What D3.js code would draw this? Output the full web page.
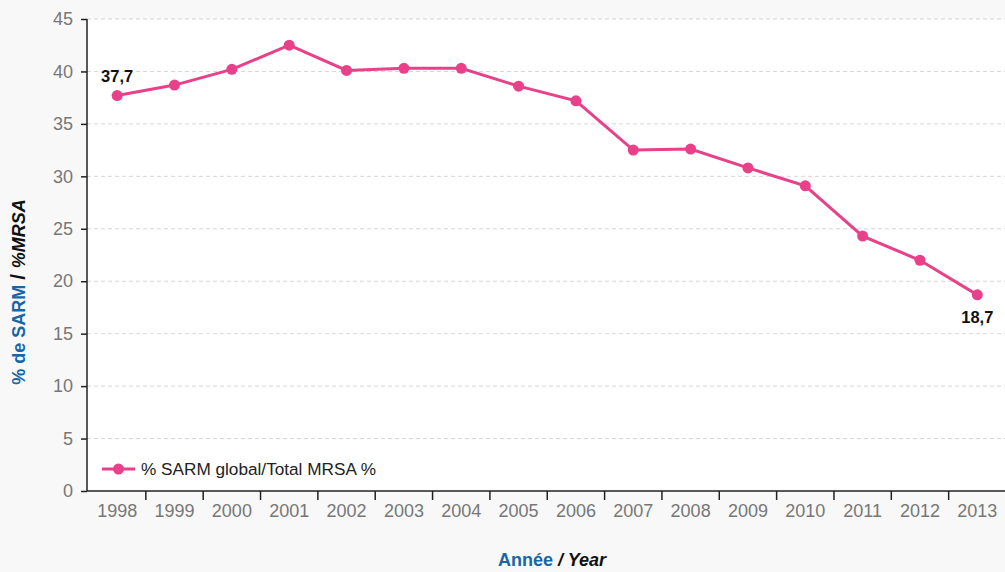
<!DOCTYPE html>
<html>
<head>
<meta charset="utf-8">
<script src="https://cdn.jsdelivr.net/npm/d3@7"></script>
<style>
  body { margin: 0; background: #f8f8f8; }
  svg { display: block; font-family: "Liberation Sans", Arial, sans-serif; }
  .grid line { stroke: #d6d6d6; stroke-dasharray: 4,3; }
  .axis text { fill: #777; font-size: 18px; }
  .axis path, .axis line { stroke: #222; stroke-width: 1.5; }
</style>
</head>
<body>
<div class="graph"></div>
<script>
// annees et % SARM
var annees = ["1998","1999","2000","2001","2002","2003","2004","2005","2006","2007","2008","2009","2010","2011","2012","2013"];
var valeurs = [37.7, 38.7, 40.2, 42.5, 40.1, 40.3, 40.3, 38.6, 37.2, 32.5, 32.6, 30.8, 29.1, 24.3, 22.0, 18.7];
var yTicks = [0, 5, 10, 15, 20, 25, 30, 35, 40, 45];
var serieNom = "% SARM global/Total MRSA %";

var width = 1005, height = 572;
var gLeft = 87, gTop = 19, gBottom = 491, gRight = 1006;

var chart = d3.select(".graph").append("svg")
  .attr("width", width)
  .attr("height", height);

var x = d3.scaleBand().domain(annees).range([gLeft + 1.5, gRight]);
var y = d3.scaleLinear().domain([0, 45]).range([gBottom, gTop]);

// fond blanc de la zone du graph
chart.append("rect")
  .attr("x", gLeft).attr("y", y(45))
  .attr("width", width - gLeft).attr("height", gBottom - y(45))
  .attr("fill", "#fff");

// grille
chart.append("g").attr("class", "grid")
  .selectAll("line")
  .data(yTicks.filter(function(d){ return d > 0; }))
  .enter().append("line")
  .attr("x1", gLeft).attr("x2", width)
  .attr("y1", function(d){ return y(d); })
  .attr("y2", function(d){ return y(d); });

// axe y
var yAxis = chart.append("g").attr("class", "axis")
  .attr("transform", "translate(" + gLeft + ",0)")
  .call(d3.axisLeft(y).tickValues(yTicks).tickSize(6).tickPadding(8).tickSizeOuter(0));
yAxis.select(".domain").remove();
yAxis.append("line").attr("x1", 0).attr("x2", 0).attr("y1", y(45)).attr("y2", gBottom);

// axe x
var xAxis = chart.append("g").attr("class", "axis")
  .attr("transform", "translate(0," + gBottom + ")")
  .call(d3.axisBottom(x).tickSize(0).tickPadding(13));
xAxis.select(".domain").remove();
xAxis.append("line").attr("x1", gLeft).attr("x2", width).attr("y1", 0).attr("y2", 0);
xAxis.selectAll(".sep")
  .data(annees.slice(1))
  .enter().append("line")
  .attr("class", "sep")
  .attr("x1", function(d){ return x(d); })
  .attr("x2", function(d){ return x(d); })
  .attr("y1", 0).attr("y2", 9);

// titre axe y
var yTitle = chart.append("text")
  .attr("transform", "translate(25," + 292 + ") rotate(-90)")
  .attr("text-anchor", "middle")
  .style("font-size", "18px")
  .style("font-weight", "bold");
yTitle.append("tspan").attr("fill", "#1766a6").text("% de SARM ");
yTitle.append("tspan").attr("fill", "#111").style("font-size", "21px").text("/ ");
yTitle.append("tspan").attr("fill", "#111").style("font-style", "italic").text("%MRSA");

// titre axe x
var xTitle = chart.append("text")
  .attr("x", 552).attr("y", 566)
  .attr("text-anchor", "middle")
  .style("font-size", "18px")
  .style("font-weight", "bold");
xTitle.append("tspan").attr("fill", "#1766a6").text("Année ");
xTitle.append("tspan").attr("fill", "#111").style("font-style", "italic").text("/ Year");

// la courbe
var couleur = "#e8418a";
var donnees = annees.map(function(a, i){ return { annee: a, value: valeurs[i] }; });
var cx = function(d){ return x(d.annee) + x.bandwidth() / 2; };

var valueline = d3.line()
  .x(cx)
  .y(function(d){ return y(d.value); });

chart.append("path")
  .datum(donnees)
  .attr("fill", "none")
  .attr("stroke", couleur)
  .attr("stroke-width", 3)
  .attr("d", valueline);

chart.selectAll(".point")
  .data(donnees)
  .enter().append("circle")
  .attr("class", "point")
  .attr("cx", cx)
  .attr("cy", function(d){ return y(d.value); })
  .attr("r", 5.5)
  .attr("fill", couleur);

// etiquettes premiere et derniere valeur
var premier = donnees[0], dernier = donnees[donnees.length - 1];
chart.append("text")
  .attr("x", cx(premier)).attr("y", y(premier.value) - 14)
  .attr("text-anchor", "middle")
  .style("font-size", "16.5px").style("font-weight", "bold").attr("fill", "#111")
  .text(d3.format(".1f")(premier.value).replace(".", ","));
chart.append("text")
  .attr("x", cx(dernier)).attr("y", y(dernier.value) + 28)
  .attr("text-anchor", "middle")
  .style("font-size", "16.5px").style("font-weight", "bold").attr("fill", "#111")
  .text(d3.format(".1f")(dernier.value).replace(".", ","));

// legende
var legende = chart.append("g").attr("transform", "translate(102,469)");
legende.append("line").attr("x1", 0).attr("x2", 33).attr("stroke", couleur).attr("stroke-width", 3);
legende.append("circle").attr("cx", 16.5).attr("r", 5.5).attr("fill", couleur);
legende.append("text").attr("x", 39).attr("y", 6)
  .style("font-size", "17.2px").attr("fill", "#222")
  .text(serieNom);
</script>
</body>
</html>
